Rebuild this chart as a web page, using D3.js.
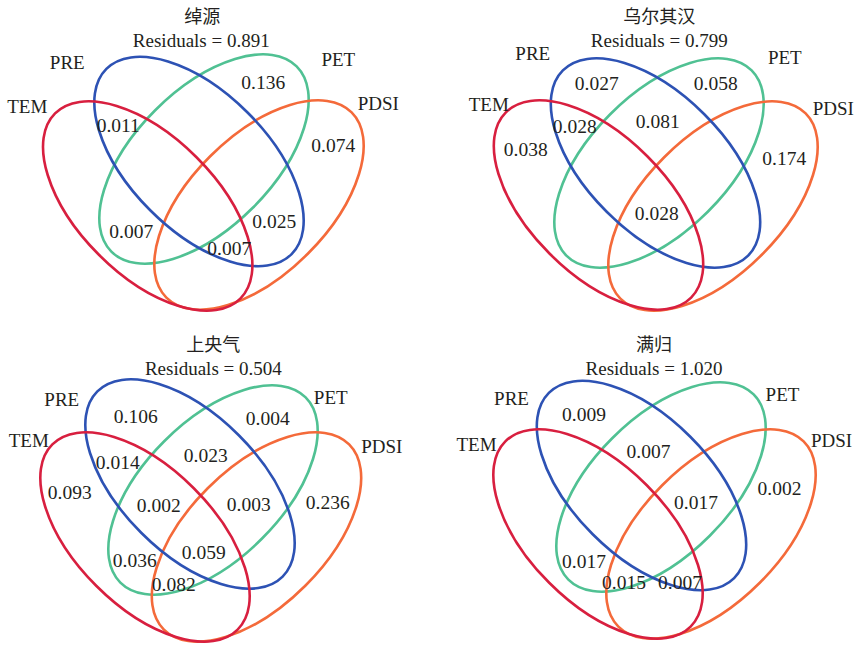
<!DOCTYPE html>
<html>
<head>
<meta charset="utf-8">
<script src="https://cdn.jsdelivr.net/npm/d3@7"></script>
<style>
  html, body { margin: 0; padding: 0; background: #fff; }
  svg text { font-family: "Liberation Serif", "DejaVu Serif", serif; fill: #231f20; }
  svg text.site { font-family: "Noto Sans CJK SC", sans-serif; }
</style>
</head>
<body>
<svg id="chart" width="854" height="646"></svg>
<script>
// Sites, one four-set Venn panel each
const sites = ["绰源", "乌尔其汉", "上央气", "满归"];
const residuals = [0.891, 0.799, 0.504, 1.020];

// Explanatory variables (one ellipse each)
const variables = ["TEM", "PRE", "PET", "PDSI"];

// Explained-variance fractions; the key lists the variables sharing a region
const fractionsChuoyuan = [
  ["TEM&PRE", 0.011], ["PET", 0.136], ["PDSI", 0.074],
  ["TEM&PET", 0.007], ["PRE&PDSI", 0.025], ["TEM&PRE&PDSI", 0.007]
];
const fractionsWuerqihan = [
  ["PRE", 0.027], ["PET", 0.058], ["TEM&PRE", 0.028], ["PRE&PET", 0.081],
  ["TEM", 0.038], ["PDSI", 0.174], ["TEM&PRE&PET&PDSI", 0.028]
];
const fractionsShangyangqi = [
  ["PRE", 0.106], ["PET", 0.004], ["TEM&PRE", 0.014], ["PRE&PET", 0.023],
  ["TEM", 0.093], ["PDSI", 0.236], ["TEM&PRE&PET", 0.002], ["PRE&PET&PDSI", 0.003],
  ["TEM&PET", 0.036], ["TEM&PRE&PET&PDSI", 0.059], ["TEM&PET&PDSI", 0.082]
];
const fractionsMangui = [
  ["PRE", 0.009], ["PRE&PET", 0.007], ["PRE&PET&PDSI", 0.017], ["PDSI", 0.002],
  ["TEM&PET", 0.017], ["TEM&PET&PDSI", 0.015], ["TEM&PRE&PDSI", 0.007]
];
const fractions = [fractionsChuoyuan, fractionsWuerqihan, fractionsShangyangqi, fractionsMangui];

// ---- styling & geometry ----
const colors = { TEM: "#d81f3f", PRE: "#2d52b4", PET: "#50c193", PDSI: "#f46a3a" };
const tilt = { TEM: 45, PRE: 45, PET: -45, PDSI: -45 };
const semiMajor = 131, semiMinor = 69;
const drawOrder = ["PET", "PDSI", "PRE", "TEM"];

// Per-panel placement: origin, ellipse centre offsets, text anchors (offsets from origin)
const panelLayout = [
  { origin: [203.3, 206],
    centers: { TEM: [-55.6, 0], PRE: [-4.3, -44.5], PET: [0.7, -47], PDSI: [55.7, -1] },
    title: [-1, -189], resid: [-2, -166],
    names: { TEM: [-176, -100], PRE: [-136, -144], PET: [135, -147], PDSI: [175, -103] },
    regions: { "TEM&PRE": [-85, -81], "PET": [60, -124], "PDSI": [130, -61], "TEM&PET": [-72, 25],
               "PRE&PDSI": [71, 15], "TEM&PRE&PDSI": [26, 42] } },
  { origin: [655.8, 205.5],
    centers: { TEM: [-57.3, -0.5], PRE: [-0.3, -42.5], PET: [3.2, -42.5], PDSI: [57.2, 0.5] },
    title: [3.5, -189], resid: [3.5, -165.5],
    names: { TEM: [-167, -101], PRE: [-123, -152], PET: [129, -148], PDSI: [177.5, -97] },
    regions: { "PRE": [-59, -122], "PET": [60, -122], "TEM&PRE": [-81, -79], "PRE&PET": [2, -84],
               "TEM": [-130, -56], "PDSI": [128.5, -47], "TEM&PRE&PET&PDSI": [1, 8] } },
  { origin: [200.75, 537],
    centers: { TEM: [-55.75, 0], PRE: [-10.75, -53], PET: [12.25, -47], PDSI: [55.75, 0] },
    title: [12.6, -192], resid: [12.6, -169],
    names: { TEM: [-172, -97], PRE: [-139, -138], PET: [130, -140], PDSI: [181, -91] },
    regions: { "PRE": [-65, -121], "PET": [67, -119], "TEM&PRE": [-83, -75], "PRE&PET": [5, -82],
               "TEM": [-131, -45], "PDSI": [127, -35], "TEM&PRE&PET": [-42, -32],
               "PRE&PET&PDSI": [48, -33], "TEM&PET": [-66, 23], "TEM&PRE&PET&PDSI": [3, 15],
               "TEM&PET&PDSI": [-27, 47] } },
  { origin: [654.5, 534],
    centers: { TEM: [-56.5, 0], PRE: [-13, -48.5], PET: [6.5, -47], PDSI: [56.5, 0] },
    title: [-0.5, -189], resid: [-0.5, -166],
    names: { TEM: [-178, -90], PRE: [-143, -136], PET: [128, -140], PDSI: [177, -94] },
    regions: { "PRE": [-70.5, -120], "PRE&PET": [-6, -83], "PRE&PET&PDSI": [41.5, -32],
               "PDSI": [125, -46], "TEM&PET": [-70.5, 27], "TEM&PET&PDSI": [-30.5, 48],
               "TEM&PRE&PDSI": [25.5, 48] } }
];

const fmt = d3.format(".3f");
const svg = d3.select("#chart");

sites.forEach((site, i) => {
  const L = panelLayout[i];
  const x = d3.scaleLinear().domain([0, 1]).range([L.origin[0], L.origin[0] + 1]);
  const y = d3.scaleLinear().domain([0, 1]).range([L.origin[1], L.origin[1] + 1]);
  const g = svg.append("g");

  // ellipses
  g.selectAll("ellipse")
    .data(drawOrder)
    .join("ellipse")
    .attr("cx", 0).attr("cy", 0)
    .attr("rx", semiMajor).attr("ry", semiMinor)
    .attr("transform", v => `translate(${x(L.centers[v][0])},${y(L.centers[v][1])}) rotate(${tilt[v]})`)
    .attr("fill", "none")
    .attr("stroke", v => colors[v])
    .attr("stroke-width", 2.6);

  // site name and residuals
  g.append("text").attr("class", "site")
    .attr("x", x(L.title[0])).attr("y", y(L.title[1]))
    .attr("text-anchor", "middle").attr("dy", "0.36em")
    .style("font-size", "18px")
    .text(site);
  g.append("text")
    .attr("x", x(L.resid[0])).attr("y", y(L.resid[1]))
    .attr("text-anchor", "middle").attr("dy", "0.35em")
    .style("font-size", "19px")
    .text(`Residuals = ${fmt(residuals[i])}`);

  // variable names
  g.selectAll("text.var")
    .data(variables)
    .join("text").attr("class", "var")
    .attr("x", v => x(L.names[v][0])).attr("y", v => y(L.names[v][1]))
    .attr("text-anchor", "middle").attr("dy", "0.35em")
    .style("font-size", "19px")
    .text(v => v);

  // fraction values
  g.selectAll("text.val")
    .data(fractions[i])
    .join("text").attr("class", "val")
    .attr("x", d => x(L.regions[d[0]][0])).attr("y", d => y(L.regions[d[0]][1]))
    .attr("text-anchor", "middle").attr("dy", "0.35em")
    .style("font-size", "19.5px")
    .text(d => fmt(d[1]));
});
</script>
</body>
</html>
